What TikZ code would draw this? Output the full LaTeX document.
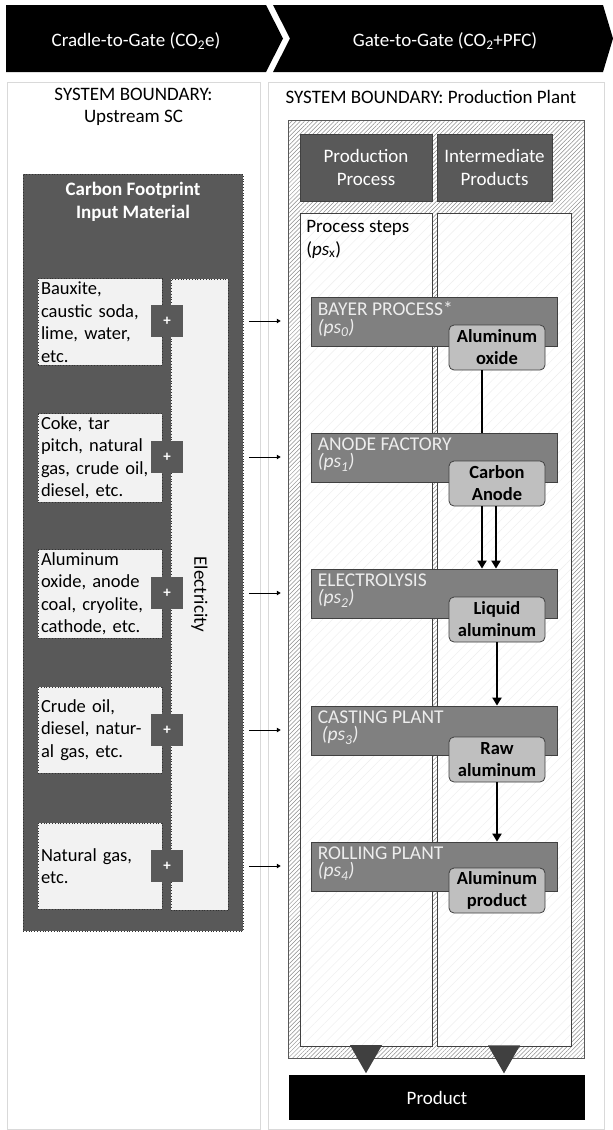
\documentclass[tikz,border=0pt]{standalone}
\usepackage{fontspec}
\setmainfont{Carlito}
\usetikzlibrary{arrows.meta,positioning,calc,patterns.meta}
\definecolor{darkgrey}{HTML}{595959}
\definecolor{stepgrey}{HTML}{808080}
\definecolor{prodgrey}{HTML}{BFBFBF}
\definecolor{inputgrey}{HTML}{F2F2F2}
\definecolor{panelline}{HTML}{D9D9D9}
\definecolor{edgegrey}{HTML}{404040}
\tikzset{
  >={Triangle[length=7pt,width=8pt]},
  txt/.style={font=\fontsize{19}{22.5}\selectfont},
  % rahmen
  panel/.style={draw=panelline,line width=1pt,fill=white},
  chev/.style={fill=black},
  chevtxt/.style={txt,text=white},
  % vorkette
  cfbox/.style={fill=darkgrey,draw=black!80,dotted,line width=0.8pt,
                minimum width=220pt,minimum height=757pt,inner sep=0pt},
  inbox/.style={font=\fontsize{18.5}{22.5}\selectfont,fill=inputgrey,draw=black!80,
                dotted,line width=0.8pt,minimum height=86pt,text width=118pt,
                align=left,inner sep=3pt},
  elecbox/.style={txt,fill=inputgrey,draw=black!80,dotted,line width=0.8pt,
                  rotate=-90,minimum width=631pt,minimum height=57pt},
  plus/.style={fill=darkgrey,text=white,minimum size=32pt,inner sep=0pt,
               font=\fontsize{15}{15}\selectfont\bfseries},
  inarrow/.style={-{Triangle[length=4pt,width=4.5pt]},line width=1pt},
  % werk
  frame/.style={draw=darkgrey,line width=0.8pt,preaction={fill=white},
                pattern={Lines[angle=45,distance=3pt,line width=0.5pt]},
                pattern color=black!45,minimum width=296pt,minimum height=938pt},
  hdr/.style={txt,fill=darkgrey,draw=edgegrey,line width=0.8pt,text=white,
              align=center,minimum height=67pt},
  column/.style={draw=edgegrey,line width=0.8pt,preaction={fill=white},
                 pattern={Lines[angle=45,distance=7pt,line width=0.4pt]},
                 pattern color=black!7,minimum height=833pt},
  stepbox/.style={fill=stepgrey,draw=edgegrey,line width=0.8pt,
                  minimum width=246pt,minimum height=49pt},
  steplbl/.style={font=\fontsize{19.5}{17.5}\selectfont,text=white!93!black,
                  align=left,inner sep=0pt,anchor=north west},
  prod/.style={fill=prodgrey,draw=edgegrey,line width=0.8pt,rounded corners=5pt,
               font=\fontsize{18.5}{22}\selectfont\bfseries,align=center,
               minimum width=96pt,minimum height=45pt,inner sep=1pt},
  flowline/.style={line width=2.8pt},
  flow/.style={-{Triangle[length=8pt,width=9pt]},line width=2.8pt},
  tri/.style={fill=edgegrey},
  prodbar/.style={txt,fill=black,text=white,minimum width=296pt,minimum height=45pt},
}
\begin{document}
\begin{tikzpicture}[x=1pt,y=-1pt]
  \useasboundingbox (0,0) rectangle (613,1130);
  % kopfzeile
  \fill[chev] (6,5) -- (266,5) -- (283,38.5) -- (266,72) -- (6,72) -- cycle;
  \fill[chev] (273,5) -- (603,5) -- (613,38.5) -- (603,72) -- (273,72) -- (290,38.5) -- cycle;
  \node[chevtxt] (ctg) at (136,41) {Cradle-to-Gate (CO\textsubscript{2}e)};
  \node[chevtxt] (gtg) at (445,41) {Gate-to-Gate (CO\textsubscript{2}+PFC)};
  % systemgrenzen
  \draw[panel] (7,82) rectangle (260,1129);
  \draw[panel] (268,82) rectangle (604,1129);
  \node[txt,align=center] (sbup) at (133.5,107) {SYSTEM BOUNDARY:\\Upstream SC};
  \node[txt,anchor=west] (sbpp) at (282,97) {SYSTEM BOUNDARY: Production Plant};
  % vorkette
  \node[cfbox] (cf) at (133,552.5) {};
  \node[txt,text=white,align=center,font=\fontsize{19}{23}\selectfont\bfseries] (cftitle) at (133,201.5) {Carbon Footprint\\Input Material};
  \node[elecbox] (elec) at (199.5,594.5) {Electricity};
  \node[inbox] (in1) at (100,322) {Bauxite,\\caustic soda,\\lime, water,\\etc.};
  \node[inbox] (in2) at (100,458) {Coke, tar\\pitch, natural\\gas, crude oil,\\diesel, etc.};
  \node[inbox] (in3) at (100,594) {Aluminum\\oxide, anode\\coal, cryolite,\\cathode, etc.};
  \node[inbox] (in4) at (100,730) {Crude oil,\\diesel, natur-\\al gas, etc.};
  \node[inbox] (in5) at (100,866) {Natural gas,\\etc.};
  \node[plus] (plus1) at (167,321) {+};
  \node[plus] (plus2) at (167,457) {+};
  \node[plus] (plus3) at (167,593) {+};
  \node[plus] (plus4) at (167,730) {+};
  \node[plus] (plus5) at (167,866) {+};
  % werk
  \node[frame] (frame) at (436,589) {};
  \node[hdr,minimum width=132pt] (hdrL) at (366,167.5) {Production\\Process};
  \node[hdr,minimum width=115pt] (hdrR) at (494.5,167.5) {Intermediate\\Products};
  \node[column,minimum width=132pt] (colL) at (366,629.5) {};
  \node[column,minimum width=134pt] (colR) at (504,629.5) {};
  \node[txt,align=left,anchor=north west] (pslbl) at ([xshift=3pt,yshift=-4pt]colL.north west) {Process steps\\(\textit{ps}\textsubscript{x})};
  \draw[inarrow] ([xshift=6pt]cf.east |- plus1) -- ([xshift=-7pt]frame.west |- plus1);
  \draw[inarrow] ([xshift=6pt]cf.east |- plus2) -- ([xshift=-7pt]frame.west |- plus2);
  \draw[inarrow] ([xshift=6pt]cf.east |- plus3) -- ([xshift=-7pt]frame.west |- plus3);
  \draw[inarrow] ([xshift=6pt]cf.east |- plus4) -- ([xshift=-7pt]frame.west |- plus4);
  \draw[inarrow] ([xshift=6pt]cf.east |- plus5) -- ([xshift=-7pt]frame.west |- plus5);
  % prozessschritte
  \node[stepbox] (bayer) at (434,321.5) {};
  \node[stepbox] (anodefac) at (434,457.5) {};
  \node[stepbox] (electro) at (434,593.5) {};
  \node[stepbox] (casting) at (434,730.5) {};
  \node[stepbox] (rolling) at (434,866.5) {};
  \node[steplbl] at ([xshift=7pt,yshift=-5pt]bayer.north west) {BAYER PROCESS*\\\textit{(ps\textsubscript{0})}};
  \node[steplbl] at ([xshift=7pt,yshift=-5pt]anodefac.north west) {ANODE FACTORY\\\textit{(ps\textsubscript{1})}};
  \node[steplbl] at ([xshift=7pt,yshift=-5pt]electro.north west) {ELECTROLYSIS\\\textit{(ps\textsubscript{2})}};
  \node[steplbl] at ([xshift=7pt,yshift=-5pt]casting.north west) {CASTING PLANT\\\hspace*{4pt}\textit{(ps\textsubscript{3})}};
  \node[steplbl] at ([xshift=7pt,yshift=-5pt]rolling.north west) {ROLLING PLANT\\\textit{(ps\textsubscript{4})}};
  % zwischenprodukte
  \node[prod] (oxide) at (497,347.5) {Aluminum\\oxide};
  \node[prod] (carbon) at (497,483.5) {Carbon\\Anode};
  \node[prod] (liquid) at (497,619.5) {Liquid\\aluminum};
  \node[prod] (raw) at (497,759.5) {Raw\\aluminum};
  \node[prod] (alprod) at (497,890.5) {Aluminum\\product};
  \draw[flowline] ([xshift=-15pt]oxide.south) -- ([xshift=-15pt]oxide.south |- anodefac.north);
  \draw[flow] ([xshift=-15pt]carbon.south) -- ([xshift=-15pt]carbon.south |- electro.north);
  \draw[flow] ([xshift=-1pt]carbon.south) -- ([xshift=-1pt]carbon.south |- electro.north);
  \draw[flow] (liquid.south) -- (liquid.south |- casting.north);
  \draw[flow] (raw.south) -- (raw.south |- rolling.north);
  % ausgang
  \fill[tri] ([xshift=-16pt,yshift=1pt]colL.south) -- ([xshift=16pt,yshift=1pt]colL.south) -- ([yshift=-27pt]colL.south) -- cycle;
  \fill[tri] ([xshift=-16pt,yshift=1pt]colR.south) -- ([xshift=16pt,yshift=1pt]colR.south) -- ([yshift=-27pt]colR.south) -- cycle;
  \node[prodbar] (product) at (437,1097.5) {Product};
\end{tikzpicture}
\end{document}
